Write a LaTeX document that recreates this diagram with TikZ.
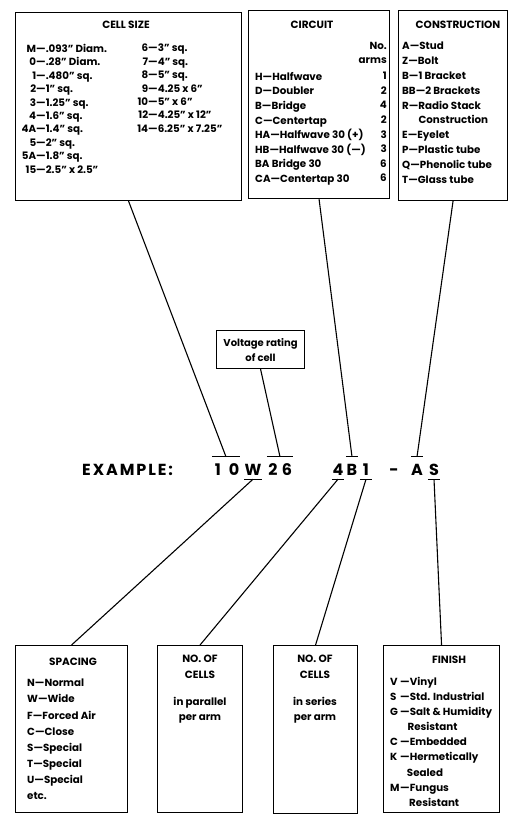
\documentclass[tikz,border=0pt]{standalone}
\usepackage{fontspec}
\setmainfont{Poppins}
\usetikzlibrary{calc}
\newcommand{\inch}{\textquotedblright}
\newcommand{\cd}[3][21pt]{\makebox[#1][r]{#2}—#3}
\newcommand{\fc}[2]{\makebox[10pt][l]{#1}—#2}
\tikzset{
  box/.style={draw, line width=1.1pt, inner sep=0pt, anchor=north west},
  lead/.style={line width=1.1pt},
  lbl/.style={font=\bfseries\fontsize{10.3}{#1}\selectfont, inner sep=0pt, align=left},
  lbl/.default=13.4,
  ttl/.style={font=\bfseries\fontsize{10.5}{16}\selectfont, inner sep=0pt, align=center},
  codech/.style={font=\bfseries\fontsize{16}{16}\selectfont, inner sep=0pt,
    minimum width=12pt, text height=18pt, text depth=4pt, anchor=base}
}
\begin{document}
\begin{tikzpicture}[x=1pt,y=-1pt]
  \useasboundingbox (0,0) rectangle (511,822);
  % boxes
  \node[box, minimum width=226pt, minimum height=188pt] (cellsize) at (15,12) {};
  \node[box, minimum width=141pt, minimum height=188pt] (circuit) at (248,10) {};
  \node[box, minimum width=109pt, minimum height=190pt] (construction) at (398,10) {};
  \node[box, minimum width=88pt, minimum height=38pt, align=center,
    font=\bfseries\fontsize{10}{15}\selectfont] (voltage) at (216,330)
    {Voltage rating\\of cell};
  \node[box, minimum width=112pt, minimum height=167pt] (spacing) at (15,645) {};
  \node[box, minimum width=85pt, minimum height=167pt] (parallel) at (157,645) {};
  \node[box, minimum width=84pt, minimum height=168pt] (series) at (273,645) {};
  \node[box, minimum width=116pt, minimum height=167pt] (finish) at (383,645) {};
  % cell size
  \node[ttl] (cstitle) at (126,25) {CELL SIZE};
  \node[lbl, anchor=north west] (csleft) at (15,44) {\cd{M}{.093\inch\ Diam.}\\
    \cd{0}{.28\inch\ Diam.}\\ \cd{1}{.480\inch\ sq.}\\ \cd{2}{1\inch\ sq.}\\
    \cd{3}{1.25\inch\ sq.}\\ \cd{4}{1.6\inch\ sq.}\\ \cd{4A}{1.4\inch\ sq.}\\
    \cd{5}{2\inch\ sq.}\\ \cd{5A}{1.8\inch\ sq.}\\ \cd{15}{2.5\inch\ x 2.5\inch}};
  \node[lbl, anchor=north west] (csright) at (130,44) {\cd[18pt]{6}{3\inch\ sq.}\\
    \cd[18pt]{7}{4\inch\ sq.}\\ \cd[18pt]{8}{5\inch\ sq.}\\ \cd[18pt]{9}{4.25 x 6\inch}\\
    \cd[18pt]{10}{5\inch\ x 6\inch}\\ \cd[18pt]{12}{4.25\inch\ x 12\inch}\\
    \cd[18pt]{14}{6.25\inch\ x 7.25\inch}};
  % circuit
  \node[ttl] (cititle) at (312,25) {CIRCUIT};
  \node[lbl=14, anchor=north east, align=right] (ciarms) at (387,42) {No.\\arms};
  \node[lbl=14.6, anchor=north west] (cirows) at (255,72) {H—Halfwave\\
    D—Doubler\\ B—Bridge\\ C—Centertap\\ HA—Halfwave 30 (+)\\
    HB—Halfwave 30 (—)\\ BA Bridge 30\\ CA—Centertap 30};
  \node[lbl=14.6, anchor=north east, align=right] (cinums) at (387,72)
    {1\\2\\4\\2\\3\\3\\6\\6};
  % construction
  \node[ttl] (cotitle) at (458,25) {CONSTRUCTION};
  \node[lbl=14.8, anchor=north west] (corows) at (402,42) {A—Stud\\ Z—Bolt\\
    B—1 Bracket\\ BB—2 Brackets\\ R—Radio Stack\\ \phantom{R—}Construction\\
    E—Eyelet\\ P—Plastic tube\\ Q—Phenolic tube\\ T—Glass tube};
  % example
  \node[font=\bfseries\fontsize{16}{16}\selectfont\addfontfeature{LetterSpace=12},
    inner sep=0pt, anchor=base west] (example) at (82,475) {EXAMPLE:};
  \node[codech] (c1) at (218,475) {1};
  \node[codech] (c0) at (234,475) {0};
  \node[codech] (cW) at (253,475) {W};
  \node[codech] (c2) at (273,475) {2};
  \node[codech] (c6) at (287,475) {6};
  \node[codech] (c4) at (338,475) {4};
  \node[codech] (cB) at (352,475) {B};
  \node[codech] (cOne) at (366,475) {1};
  \node[codech] (cdash) at (394,475) {-};
  \node[codech] (cA) at (417,475) {A};
  \node[codech] (cS) at (434,475) {S};
  % bars and leads
  \draw[lead] (c1.north west) -- (c0.north east);
  \draw[lead] (c2.north west) -- (c6.north east);
  \draw[lead] (cB.north west) -- (cB.north east);
  \draw[lead] (cA.north west) -- (cA.north east);
  \draw[lead] (cW.south west) -- (cW.south east);
  \draw[lead] (c4.south west) -- (c4.south east);
  \draw[lead] (cOne.south west) -- (cOne.south east);
  \draw[lead] (cS.south west) -- (cS.south east);
  \draw[lead] (cellsize.south) -- ($(c1.north)!.5!(c0.north)$);
  \draw[lead] (voltage.south) -- ($(c2.north)!.5!(c6.north)$);
  \draw[lead] (circuit.south) -- (cB.north);
  \draw[lead] (construction.south) -- (cA.north);
  \draw[lead] (cW.south) -- (spacing.north);
  \draw[lead] (c4.south) -- (parallel.north);
  \draw[lead] (cOne.south) -- (series.north);
  \draw[lead] (cS.south) -- (finish.north);
  % spacing
  \node[ttl] (sptitle) at (73,662) {SPACING};
  \node[lbl=16.1, anchor=north west] (sprows) at (27,679) {N—Normal\\ W—Wide\\
    F—Forced Air\\ C—Close\\ S—Special\\ T—Special\\ U—Special\\ etc.};
  % no. of cells
  \node[ttl, anchor=north] (patitle) at (200,655) {NO. OF\\CELLS};
  \node[lbl=15, anchor=north, align=center] (parows) at (200,697) {in parallel\\per arm};
  \node[ttl, anchor=north] (setitle) at (315,655) {NO. OF\\CELLS};
  \node[lbl=15, anchor=north, align=center] (serows) at (315,697) {in series\\per arm};
  % finish
  \node[ttl] (fititle) at (449,660) {FINISH};
  \node[lbl=15.1, anchor=north west] (firows) at (390,677) {\fc{V}{Vinyl}\\
    \fc{S}{Std. Industrial}\\ \fc{G}{Salt \& Humidity}\\ \phantom{G—}Resistant\\
    \fc{C}{Embedded}\\ \fc{K}{Hermetically}\\ \phantom{K—}Sealed\\
    \fc{M}{Fungus}\\ \phantom{M—}Resistant};
\end{tikzpicture}
\end{document}
